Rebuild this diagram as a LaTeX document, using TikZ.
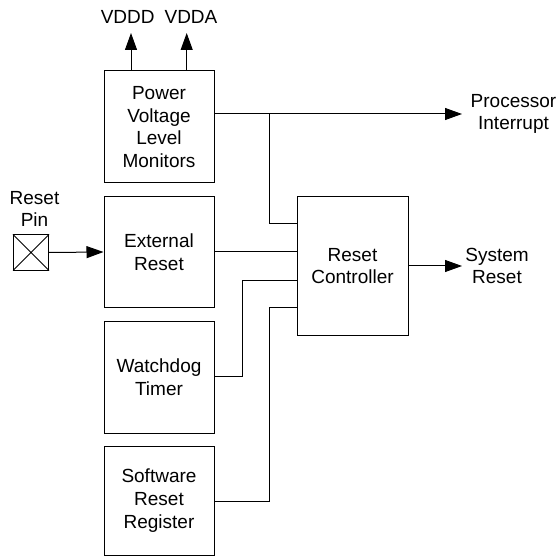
\documentclass[tikz,border=0pt]{standalone}
\usepackage{fontspec}
\setmainfont{Liberation Sans}
\usetikzlibrary{arrows.meta}
\begin{document}
\begin{tikzpicture}[x=1pt,y=-1pt, line width=1pt,
  txt/.style={font=\fontsize{19}{22.8}\selectfont, align=center},
  blk/.style={txt, draw, inner sep=0pt, minimum width=110pt},
  lbl/.style={txt, inner sep=0pt},
  arr/.style={-{Triangle[length=17pt,width=12pt]}}]
\useasboundingbox (0,0) rectangle (557,556);
% blocks
\node[blk, minimum height=112pt] (pvlm) at (159,127) {Power\\Voltage\\Level\\Monitors};
\node[blk, minimum height=110pt] (ext) at (159,252) {External\\Reset};
\node[blk, minimum height=112pt] (wdt) at (159,377) {Watchdog\\Timer};
\node[blk, minimum height=109pt] (swr) at (159,500.5) {Software\\Reset\\Register};
\node[blk, minimum width=111pt, minimum height=138pt] (ctrl) at (352.5,266) {Reset\\Controller};
\node[draw, minimum size=35pt, inner sep=0pt] (pin) at (31,252.5) {};
\draw (pin.north west) -- (pin.south east) (pin.north east) -- (pin.south west);
% labels
\node[lbl] (vdddl) at (127.7,17) {VDDD};
\node[lbl] (vddal) at (191,17) {VDDA};
\node[lbl] (pinl) at (34.5,209) {Reset\\Pin};
\node[lbl] (pintl) at (513.5,114) {Processor\\Interrupt};
\node[lbl] (srl) at (497,266) {System\\Reset};
% coordinates
\coordinate (vdddt) at (131,33);
\coordinate (vddat) at (186.7,33);
\coordinate (pit) at (462,114);
\coordinate (j1) at (269,114);
\coordinate (c1) at (297,224);
\coordinate (w1) at (242,376);
\coordinate (c3) at (297,280);
\coordinate (s1) at (269,501);
\coordinate (c4) at (297,307);
\coordinate (srt) at (462,266);
% connectors
\draw[arr] (pvlm.north -| vdddt) -- (vdddt);
\draw[arr] (pvlm.north -| vddat) -- (vddat);
\draw[arr] (pvlm.east |- pit) -- (pit);
\draw (j1) |- (c1);
\draw[arr] (pin.east) -- (ext.west);
\draw (ext.east) -- (ctrl.west |- ext.east);
\draw (wdt.east |- w1) -- (w1) |- (c3);
\draw (swr.east |- s1) -- (s1) |- (c4);
\draw[arr] (ctrl.east |- srt) -- (srt);
\end{tikzpicture}
\end{document}
